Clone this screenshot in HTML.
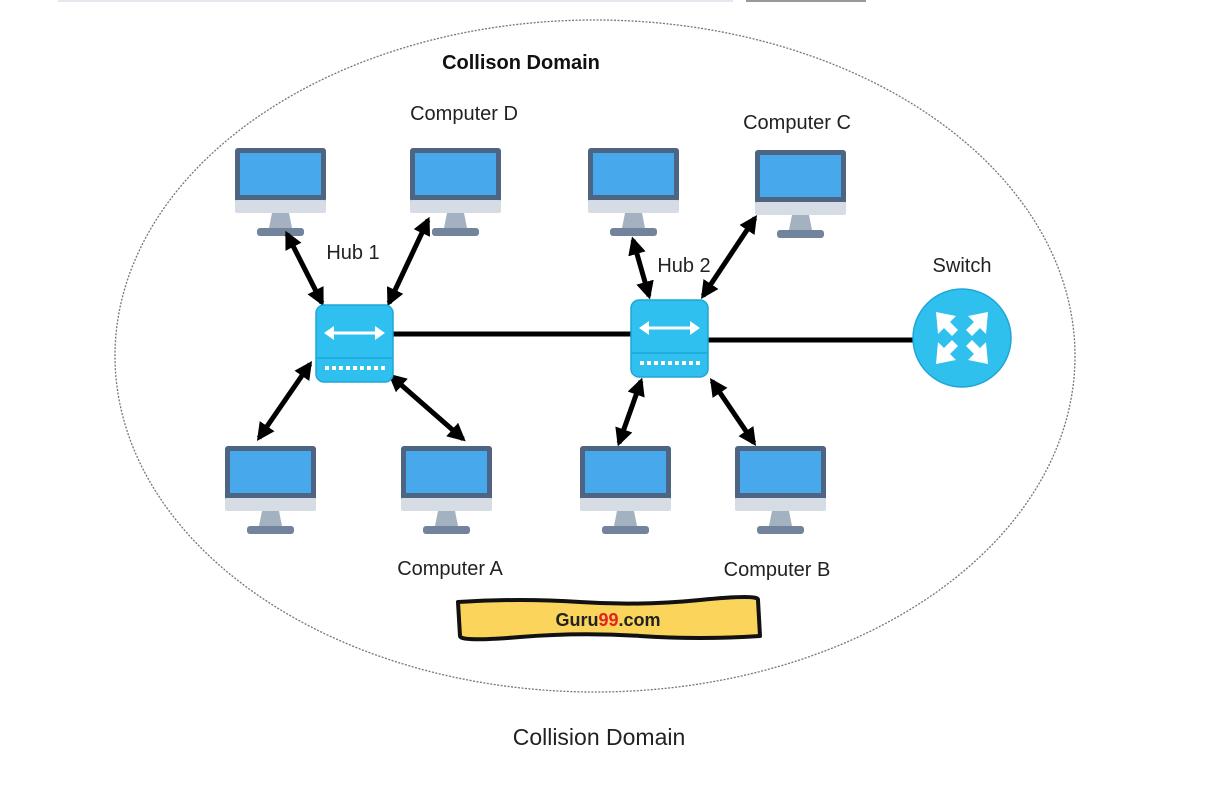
<!DOCTYPE html>
<html><head><meta charset="utf-8"><style>
body{margin:0;background:#fff;}
svg{display:block;font-family:"Liberation Sans",sans-serif;}
</style></head><body>
<svg width="1213" height="788" viewBox="0 0 1213 788" xmlns="http://www.w3.org/2000/svg">
<defs>
<g id="mon">
<rect x="0" y="0" width="91" height="54" rx="3" fill="#4d6583"/>
<rect x="5" y="5" width="81" height="42" fill="#47a9ec"/>
<rect x="0" y="52" width="91" height="13" rx="2" fill="#d5dce4"/>
<path d="M37 65 L54 65 L57 80 L34 80 Z" fill="#a3b1c1"/>
<rect x="22" y="80" width="47" height="8" rx="3" fill="#71849b"/>
</g>
<marker id="ah" viewBox="0 0 10 10" refX="8" refY="5" markerWidth="3.6" markerHeight="3.6" orient="auto-start-reverse">
<path d="M0 0 L10 5 L0 10 Z" fill="#000"/>
</marker>
<g id="hub">
<rect x="0" y="0" width="77" height="77" rx="8" fill="#2fc0ef" stroke="#1ea6d8" stroke-width="1.5"/>
<line x1="0" y1="53" x2="77" y2="53" stroke="#1ea6d8" stroke-width="1.5"/>
<line x1="14" y1="28" x2="63" y2="28" stroke="#fff" stroke-width="3"/>
<path d="M8 28 L18 21 L18 35 Z M69 28 L59 21 L59 35 Z" fill="#fff"/>
<g fill="#fff"><rect x="9" y="61" width="4" height="4"/><rect x="16" y="61" width="4" height="4"/><rect x="23" y="61" width="4" height="4"/><rect x="30" y="61" width="4" height="4"/><rect x="37" y="61" width="4" height="4"/><rect x="44" y="61" width="4" height="4"/><rect x="51" y="61" width="4" height="4"/><rect x="58" y="61" width="4" height="4"/><rect x="65" y="61" width="4" height="4"/></g>
</g>
</defs>
<rect x="58" y="0" width="675" height="2" fill="#e3e8ee"/>
<rect x="746" y="0" width="120" height="2" fill="#999"/>
<ellipse cx="595" cy="356" rx="480" ry="336" fill="none" stroke="#777" stroke-width="1.3" stroke-dasharray="2,1.5"/>
<text x="521" y="69" font-size="20" font-weight="bold" text-anchor="middle" fill="#111">Collison Domain</text>
<text x="464" y="120" font-size="20" text-anchor="middle" fill="#222">Computer D</text>
<text x="797" y="129" font-size="20" text-anchor="middle" fill="#222">Computer C</text>
<text x="353" y="259" font-size="20" text-anchor="middle" fill="#222">Hub 1</text>
<text x="684" y="272" font-size="20" text-anchor="middle" fill="#222">Hub 2</text>
<text x="962" y="272" font-size="20" text-anchor="middle" fill="#222">Switch</text>
<text x="450" y="575" font-size="20" text-anchor="middle" fill="#222">Computer A</text>
<text x="777" y="576" font-size="20" text-anchor="middle" fill="#222">Computer B</text>
<use href="#mon" x="235" y="148"/>
<use href="#mon" x="410" y="148"/>
<use href="#mon" x="588" y="148"/>
<use href="#mon" x="755" y="150"/>
<use href="#mon" x="225" y="446"/>
<use href="#mon" x="401" y="446"/>
<use href="#mon" x="580" y="446"/>
<use href="#mon" x="735" y="446"/>
<line x1="393" y1="334" x2="631" y2="334" stroke="#000" stroke-width="5"/>
<line x1="708" y1="340" x2="915" y2="340" stroke="#000" stroke-width="5"/>
<g stroke="#000" stroke-width="5" marker-start="url(#ah)" marker-end="url(#ah)">
<line x1="287" y1="234" x2="322" y2="303"/>
<line x1="428" y1="220" x2="389" y2="303"/>
<line x1="310" y1="364" x2="259" y2="438"/>
<line x1="391" y1="376" x2="463" y2="439"/>
<line x1="633" y1="240" x2="649" y2="296"/>
<line x1="755" y1="218" x2="703" y2="296"/>
<line x1="641" y1="381" x2="619" y2="443"/>
<line x1="712" y1="381" x2="754" y2="443"/>
</g>
<use href="#hub" x="316" y="305"/>
<use href="#hub" x="631" y="300"/>
<circle cx="962" cy="338" r="49" fill="#30c0ee" stroke="#1ea6d8" stroke-width="1.5"/>
<g fill="#fff">
<path d="M936 312 L956 316 L950 322 L958 330 L952 336 L944 328 L938 334 Z"/>
<path d="M988 312 L968 316 L974 322 L966 330 L972 336 L980 328 L986 334 Z"/>
<path d="M936 364 L956 360 L950 354 L958 346 L952 340 L944 348 L938 342 Z"/>
<path d="M988 364 L968 360 L974 354 L966 346 L972 340 L980 348 L986 342 Z"/>
</g>
<path d="M458 602 Q520 598 580 602 T700 600 T758 600 L760 636 Q700 640 640 636 T520 637 T460 636 Z" fill="#fbd55b" stroke="#111" stroke-width="4" stroke-linejoin="round"/>
<text x="608" y="626" font-size="18" font-weight="bold" text-anchor="middle" fill="#222">Guru<tspan fill="#e52222">99</tspan>.com</text>
<text x="599" y="745" font-size="23" text-anchor="middle" fill="#222">Collision Domain</text>
</svg>
</body></html>
